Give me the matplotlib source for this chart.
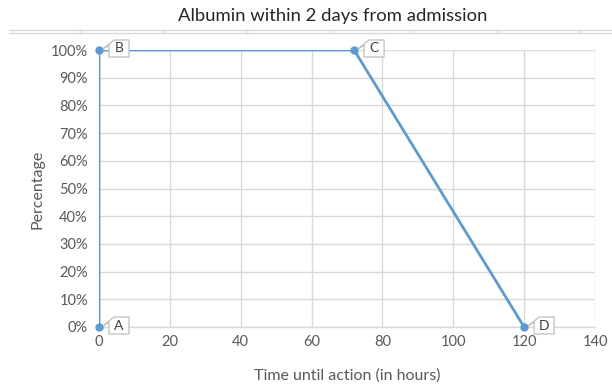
import matplotlib
matplotlib.use("Agg")
import matplotlib.pyplot as plt
from matplotlib.lines import Line2D
from matplotlib.patches import Polygon
from matplotlib.transforms import ScaledTranslation

# Data
hours = [0, 0, 72, 120]
percentage = [0, 100, 100, 0]
point_labels = ["A", "B", "C", "D"]
x_ticks = [0, 20, 40, 60, 80, 100, 120, 140]
y_ticks = [0, 10, 20, 30, 40, 50, 60, 70, 80, 90, 100]
y_tick_labels = [f"{v}%" for v in y_ticks]

title = "Albumin within 2 days from admission"
x_label = "Time until action (in hours)"
y_label = "Percentage"

plt.rcParams["font.family"] = ["Lato", "DejaVu Sans"]

W, H = 612, 385
DPI = 100
fig = plt.figure(figsize=(W / DPI, H / DPI), dpi=DPI)
fig.patch.set_facecolor("white")

ax = fig.add_axes([99 / W, 1 - 327 / H, 496 / W, 277 / H])
ax.set_xlim(0, 140)
ax.set_ylim(0, 100)
ax.set_xticks(x_ticks)
ax.set_yticks(y_ticks)
ax.set_yticklabels(y_tick_labels)

grid_c = "#d9d9d9"
text_c = "#595959"
ax.grid(True, color=grid_c, linewidth=1)
ax.set_axisbelow(True)
for side in ["top", "right", "left"]:
    ax.spines[side].set_visible(False)
ax.spines["bottom"].set_color(grid_c)
ax.spines["bottom"].set_linewidth(1)
ax.tick_params(axis="both", length=0, labelsize=10.5, labelcolor=text_c)
ax.tick_params(axis="y", pad=8)
ax.tick_params(axis="x", pad=6)

line_c = "#5b9bd5"
ax.plot(hours, percentage, color=line_c, linewidth=2, zorder=3)
ax.plot(hours, percentage, linestyle="none", marker="o", markersize=5,
        color=line_c, zorder=4, clip_on=False)

fig.text(347 / W, 1 - 376 / H, x_label, ha="center", va="center",
         fontsize=11.5, color=text_c)
fig.text(37 / W, 1 - 189 / H, y_label, ha="center", va="center",
         rotation=90, fontsize=11.5, color=text_c)
fig.text(333 / W, 1 - 16 / H, title, ha="center", va="center",
         fontsize=13.3, color="#262626")

# Callout boxes beside each point (shape in pixels, converted to inches)
px = 1 / DPI
shape = [(10, -7), (30, -7), (30, 10), (15, 10), (4, 1), (10, 5)]
for x, y, lab in zip(hours, percentage, point_labels):
    tr = fig.dpi_scale_trans + ScaledTranslation(x, y, ax.transData)
    poly = Polygon([(a * px, b * px) for a, b in shape], closed=True,
                   transform=tr, facecolor="white", edgecolor="#bfbfbf",
                   linewidth=0.9, zorder=5, clip_on=False)
    ax.add_patch(poly)
    ax.text(20 * px, 1.5 * px, lab, transform=tr, ha="center", va="center",
            fontsize=10, color="#404040", zorder=6, clip_on=False)

# Border strip across the top of the figure
for yy in (30, 33):
    fig.add_artist(Line2D([9 / W, 1], [1 - yy / H] * 2, color="#d9d9d9",
                          linewidth=1))
for xx in (80, 163, 247, 330, 413, 497, 580):
    fig.add_artist(Line2D([xx / W] * 2, [1 - 30 / H, 1 - 33 / H],
                          color="#d9d9d9", linewidth=1))

fig.savefig("out.png", dpi=DPI)
